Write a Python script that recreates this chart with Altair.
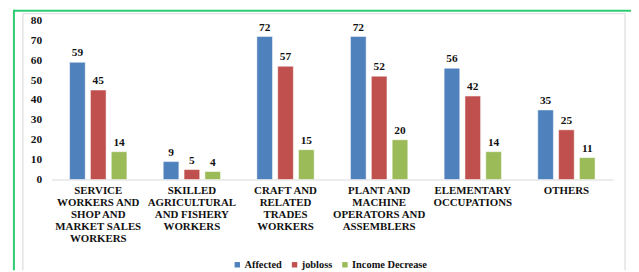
import altair as alt
import pandas as pd

categories = [
    "SERVICE|WORKERS AND|SHOP AND|MARKET SALES|WORKERS",
    "SKILLED|AGRICULTURAL|AND FISHERY|WORKERS",
    "CRAFT AND|RELATED|TRADES|WORKERS",
    "PLANT AND|MACHINE|OPERATORS AND|ASSEMBLERS",
    "ELEMENTARY|OCCUPATIONS",
    "OTHERS",
]
series = ["Affected", "jobloss", "Income Decrease"]
affected = [59, 9, 72, 72, 56, 35]
jobloss = [45, 5, 57, 52, 42, 25]
income_decrease = [14, 4, 15, 20, 14, 11]
colors = ["#4F81BD", "#C0504D", "#9BBB59"]
y_ticks = [0, 10, 20, 30, 40, 50, 60, 70, 80]

rows = []
for i, c in enumerate(categories):
    for s, vals in zip(series, [affected, jobloss, income_decrease]):
        rows.append({"category": c, "series": s, "value": vals[i]})
df = pd.DataFrame(rows)

FONT = "Liberation Serif"

x_axis = alt.Axis(
    title=None,
    labelAngle=0,
    ticks=False,
    domainColor="#d9d9d9",
    domainWidth=1,
    labelPadding=5,
    labelFont=FONT,
    labelFontWeight="bold",
    labelFontSize=11,
    labelColor="#111111",
    labelLineHeight=12.2,
    labelOverlap=False,
    labelExpr="split(datum.value, '|')",
)
y_axis = alt.Axis(
    title=None,
    values=y_ticks,
    domain=False,
    ticks=False,
    grid=False,
    labelPadding=10,
    labelOverlap=False,
    labelFont=FONT,
    labelFontWeight="bold",
    labelFontSize=11.5,
    labelColor="#111111",
)
x_scale = alt.Scale(paddingInner=0.388, paddingOuter=0.194)
xo_scale = alt.Scale(paddingInner=0.25, paddingOuter=0)
y_scale = alt.Scale(domain=[0, 80], nice=False)

bars = alt.Chart(df).mark_bar(stroke="white", strokeWidth=0.5).encode(
    x=alt.X("category:N", sort=categories, scale=x_scale, axis=x_axis),
    xOffset=alt.XOffset("series:N", sort=series, scale=xo_scale),
    y=alt.Y("value:Q", scale=y_scale, axis=y_axis),
    color=alt.Color(
        "series:N",
        sort=series,
        scale=alt.Scale(domain=series, range=colors),
        legend=alt.Legend(
            title=None,
            orient="none",
            legendX=183,
            legendY=242,
            direction="horizontal",
            symbolType="square",
            symbolSize=30,
            symbolStrokeWidth=0,
            labelFont=FONT,
            labelFontWeight="bold",
            labelFontSize=10.5,
            labelColor="#111111",
            labelOffset=2,
            columnPadding=7,
            padding=0,
        ),
    ),
)

labels = alt.Chart(df).mark_text(
    baseline="alphabetic", dy=-6, font=FONT, fontWeight="bold", fontSize=11.5, color="#111111"
).encode(
    x=alt.X("category:N", sort=categories, scale=x_scale, axis=x_axis),
    xOffset=alt.XOffset("series:N", sort=series, scale=xo_scale),
    y=alt.Y("value:Q", scale=y_scale, axis=y_axis),
    text="value:Q",
)

one = alt.Data(values=[{"k": 1}])
green_left = alt.Chart(one).mark_rule(color="#2ecc71", strokeWidth=2).encode(
    x=alt.value(-38), y=alt.value(-11), y2=alt.value(253)
)
green_top = alt.Chart(one).mark_rule(color="#2ecc71", strokeWidth=2).encode(
    x=alt.value(-38), x2=alt.value(587), y=alt.value(-10)
)
gray_left = alt.Chart(one).mark_rule(color="#e3e3e3", strokeWidth=1.5).encode(
    x=alt.value(-29), y=alt.value(-7), y2=alt.value(253)
)
gray_right = alt.Chart(one).mark_rule(color="#e3e3e3", strokeWidth=1.5).encode(
    x=alt.value(581), y=alt.value(-7), y2=alt.value(253)
)
gray_top = alt.Chart(one).mark_rule(color="#e3e3e3", strokeWidth=1.5).encode(
    x=alt.value(-29), x2=alt.value(581), y=alt.value(-7)
)

chart = alt.layer(
    green_left, green_top, gray_left, gray_right, gray_top, bars, labels
).properties(
    width=569,
    height=161,
    autosize=alt.AutoSizeParams(type="none"),
    padding={"left": 44, "top": 11, "right": 18, "bottom": 92},
).configure_view(stroke=None)

chart.save("out.html", embed_options={"renderer": "svg", "actions": False})
